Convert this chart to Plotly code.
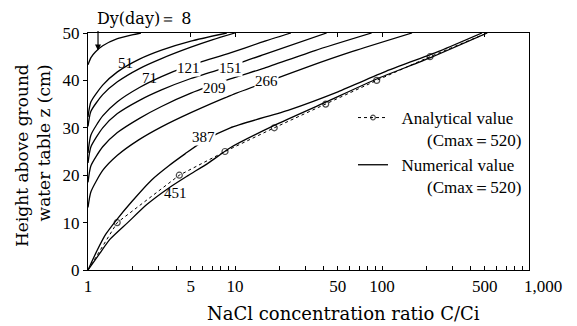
import plotly.graph_objects as go
import math

# ---------------- data ----------------
dy_labels = ["8", "51", "71", "121", "151", "209", "266", "387", "451"]

c_8 = [1, 1.047, 1.122, 1.259, 1.585, 1.995, 2.29]
z_8 = [43.3, 44.8, 46.0, 47.3, 48.8, 49.6, 50]

c_51 = [1, 1.047, 1.259, 1.585, 2.239, 3.162, 5.012, 8.79]
z_51 = [32.3, 35.5, 39.0, 41.8, 44.5, 46.4, 48.3, 50]

c_71 = [1, 1.047, 1.259, 1.585, 2.239, 3.162, 5.012, 7.079, 10]
z_71 = [30.3, 33.5, 37.0, 39.7, 42.5, 44.6, 47.0, 48.6, 50]

c_121 = [1, 1.047, 1.259, 1.585, 2.239, 3.162, 4.786, 9.29, 15.0, 24.0]
z_121 = [24.7, 28.5, 32.5, 35.5, 38.5, 40.8, 43.0, 45.8, 48.0, 50]

c_151 = [1, 1.047, 1.259, 1.585, 2.239, 3.162, 5.012, 9.29, 15.85, 42.0]
z_151 = [22.6, 26.0, 30.0, 33.0, 35.8, 38.0, 40.4, 43.0, 45.5, 50]

c_209 = [1, 1.047, 1.259, 1.585, 2.239, 3.162, 5.012, 9.29, 15.85, 35.0, 85.0]
z_209 = [18.5, 22.0, 26.0, 29.0, 32.0, 34.5, 37.3, 40.3, 42.6, 46.3, 50]

c_266 = [1, 1.047, 1.259, 1.585, 2.2, 3.162, 5.012, 9.29, 16.2, 31.62, 63.1, 160.0]
z_266 = [13.2, 16.5, 21.0, 24.2, 27.4, 30.2, 33.2, 36.8, 39.6, 42.9, 46.1, 50]

c_387 = [1, 1.148, 1.318, 1.585, 1.995, 2.71, 3.548, 4.571, 6.166, 9.29, 23.44, 50.12, 112.2, 251.2, 478.6]
z_387 = [0, 4.0, 7.5, 10.8, 14.5, 19.0, 22.0, 24.5, 27.3, 30.0, 33.8, 37.6, 42.2, 46.3, 50]

c_451 = [1, 1.202, 1.413, 1.862, 2.512, 3.548, 4.786, 6.607, 9.29, 18.5, 41.4, 92, 213.8, 520]
z_451 = [0, 3.5, 6.5, 10.0, 13.8, 17.3, 19.9, 22.6, 25.8, 30.5, 35.4, 40.3, 44.8, 50]

curves_c = [c_8, c_51, c_71, c_121, c_151, c_209, c_266, c_387, c_451]
curves_z = [z_8, z_51, z_71, z_121, z_151, z_209, z_266, z_387, z_451]

# analytical values (Cmax = 520)
ana_c = [1, 1.58, 4.18, 8.55, 18.5, 41.4, 92, 212, 520]
ana_z = [0, 10, 20, 25, 30, 35, 40, 45, 50]
ana_marker = [0, 6, 6, 6, 6, 6, 6, 6, 0]

# day-label positions on the curves (C, z)
lab_text = ["51", "71", "121", "151", "209", "266", "387", "451"]
lab_c = [1.79, 2.64, 4.79, 9.25, 7.2, 16.3, 6.15, 3.95]
lab_z = [43.7, 40.5, 42.6, 42.6, 38.4, 39.9, 28.1, 16.2]
lab_inline = [False, False, True, True, True, True, True, False]

# axis ticks
x_tickvals = [1, 2, 3, 4, 5, 6, 7, 8, 9,
              10, 20, 30, 40, 50, 60, 70, 80, 90,
              100, 200, 300, 400, 500, 600, 700, 800, 900, 1000]
x_ticktext = ["1", "", "", "", "5", "", "", "", "",
              "10", "", "", "", "50", "", "", "", "",
              "100", "", "", "", "500", "", "", "", "", ""]
x_top_ticks = [5, 10, 50, 100, 500]
y_tickvals = [0, 10, 20, 30, 40, 50]

SERIF = "Liberation Serif"
WSERIF = "DejaVu Serif"
NB = "\u00a0"

fig = go.Figure()

# analytical (dashed with open circles)
fig.add_trace(go.Scatter(
    x=ana_c, y=ana_z, mode="lines+markers",
    line=dict(color="black", width=1, dash="3px,3px"),
    marker=dict(symbol="circle-open", size=ana_marker, color="black", line=dict(width=1.2)),
    name=NB * 2 + "Analytical value<br>" + NB * 8 + "(Cmax\uff1d520)",
    showlegend=True, hoverinfo="skip"))

for i, (cx, cz) in enumerate(zip(curves_c, curves_z)):
    fig.add_trace(go.Scatter(
        x=cx, y=cz, mode="lines",
        line=dict(color="black", width=1.3, shape="spline", smoothing=0.6),
        name=NB * 2 + "Numerical value<br>" + NB * 8 + "(Cmax\uff1d520)",
        legendgroup="num", showlegend=(i == 0), hoverinfo="skip"))

# top axis ticks (invisible carrier trace)
fig.add_trace(go.Scatter(x=ana_c, y=ana_z, xaxis="x2", mode="markers",
                         marker=dict(opacity=0), showlegend=False, hoverinfo="skip"))

annotations = []
for t, cx, cz, inl in zip(lab_text, lab_c, lab_z, lab_inline):
    annotations.append(dict(
        x=math.log10(cx), y=cz, xref="x", yref="y", text=t, showarrow=False,
        font=dict(family=SERIF, size=15, color="black"),
        bgcolor="white" if inl else "rgba(0,0,0,0)", borderpad=0))

# Dy(day) = 8 label with arrow
annotations.append(dict(x=(144 - 88) / 441, y=(270 - 18) / 237, xref="paper", yref="paper",
                        text="Dy(day)\uff1d 8", showarrow=False,
                        xanchor="center", yanchor="middle",
                        font=dict(family=WSERIF, size=16, color="black")))
annotations.append(dict(x=math.log10(1.17), y=46.3, xref="x", yref="y", text="",
                        showarrow=True, arrowhead=2, arrowsize=1, arrowwidth=1.2,
                        arrowcolor="black", ax=0, ay=-21))
# 1,000 tick label
annotations.append(dict(x=3, y=0, xref="x", yref="y", text="1,000", showarrow=False,
                        xanchor="center", yanchor="top", xshift=14, yshift=-5,
                        font=dict(family=SERIF, size=17, color="black")))
# axis titles
annotations.append(dict(x=(343 - 88) / 441, y=(270 - 313) / 237, xref="paper", yref="paper",
                        text="NaCl concentration ratio C/Ci", showarrow=False,
                        xanchor="center", yanchor="middle",
                        font=dict(family=WSERIF, size=18, color="black")))
annotations.append(dict(x=(33 - 88) / 441, y=(270 - 156) / 237, xref="paper", yref="paper",
                        text="Height above ground<br>water table z (cm)", showarrow=False,
                        textangle=-90, align="right", xanchor="center", yanchor="middle",
                        font=dict(family=WSERIF, size=17, color="black")))

fig.update_layout(
    width=577, height=326,
    margin=dict(l=88, r=48, t=33, b=56),
    paper_bgcolor="white", plot_bgcolor="white",
    showlegend=True,
    legend=dict(x=(353 - 88) / 441, y=(270 - 100) / 237, xanchor="left", yanchor="top",
                bgcolor="rgba(0,0,0,0)", font=dict(family=SERIF, size=17, color="black"),
                valign="top", itemwidth=30, tracegroupgap=0),
    xaxis=dict(type="log", range=[0, 3], tickvals=x_tickvals, ticktext=x_ticktext,
               ticks="inside", ticklen=4, tickwidth=1, tickcolor="black",
               showline=True, linecolor="black", linewidth=1.3, mirror=True,
               showgrid=False, zeroline=False, ticklabelstandoff=0,
               tickfont=dict(family=SERIF, size=17, color="black")),
    xaxis2=dict(type="log", range=[0, 3], overlaying="x", side="top", anchor="y",
                tickvals=x_top_ticks, ticks="inside", ticklen=4, tickwidth=1, tickcolor="black",
                showticklabels=False, showline=False, showgrid=False, zeroline=False),
    yaxis=dict(range=[0, 50], tickvals=y_tickvals, ticks="outside", ticklen=4, tickwidth=1,
               tickcolor="black", showline=True, linecolor="black", linewidth=1.3, mirror=True,
               showgrid=False, zeroline=False,
               tickfont=dict(family=SERIF, size=17, color="black")),
    annotations=annotations,
)

fig.write_html("out.html")
